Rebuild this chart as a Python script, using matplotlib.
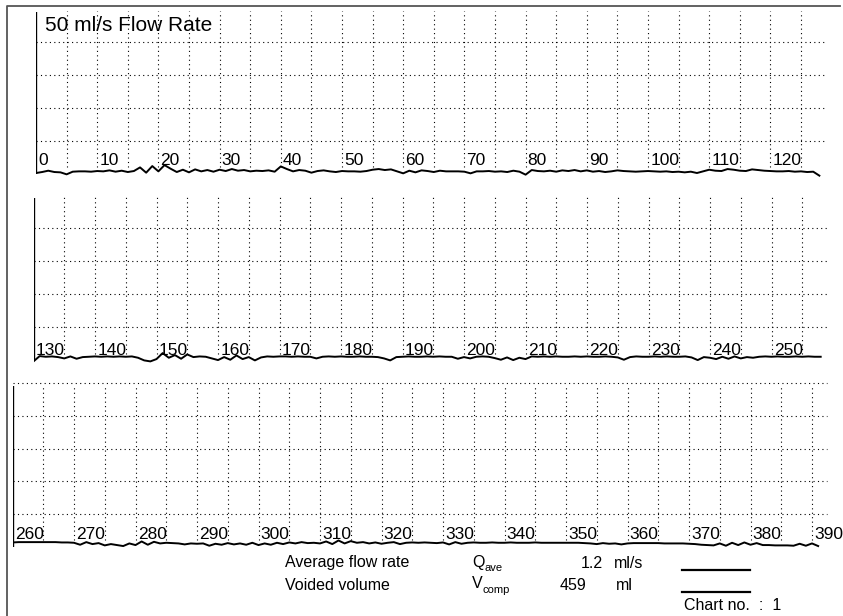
import matplotlib
matplotlib.use("Agg")
from matplotlib import pyplot as plt
from matplotlib.lines import Line2D

plt.rcParams["font.family"] = ["Liberation Sans", "DejaVu Sans"]

W, H = 843, 616

# flow rate (ml/s), one sample per second
flow_1 = [0.3, 0.6, 1.0, 0.6, 0.5, -0.1, 0.7, 0.8, 0.8, 0.7,
          0.9, 0.8, 1.1, 0.7, 1.0, 0.6, 0.9, 2.0, 0.4, 2.4,
          0.8, 2.7, 1.6, 0.6, 1.3, 0.5, 1.4, 0.8, 1.2, 0.7,
          1.3, 0.9, 1.5, 1.0, 1.2, 0.8, 1.0, 0.9, 1.1, 0.7,
          2.3, 1.5, 0.8, 1.2, 1.0, 0.4, 0.9, 1.1, 0.8, 0.6,
          0.9, 0.8, 0.8, 0.7, 0.9, 1.3, 1.5, 1.2, 1.4, 0.8,
          0.2, 1.0, 0.5, 1.1, 0.9, 0.6, 1.0, 0.8, 0.8, 0.8,
          0.7, 0.2, 0.8, 0.8, 0.9, 0.7, 0.8, 0.6, 1.0, 0.7,
          -0.2, 1.2, 0.9, 0.8, 1.0, 0.7, 1.1, 0.9, 1.2, 0.8,
          1.1, 0.7, 0.9, 0.6, 0.8, 1.1, 0.9, 0.8, 0.7, 0.8,
          0.9, 0.8, 0.7, 0.8, 0.6, 0.7, 0.5, 0.7, 0.3, 0.8,
          1.3, 1.0, 0.9, 1.5, 1.3, 1.0, 0.9, 1.4, 1.2, 1.0,
          0.9, 0.8, 0.8, 0.9, 0.7, 0.8, 0.6, 0.7, -0.5]
flow_2 = [-0.3, 1.3, 1.1, 1.2, 1.0, 0.6, 1.2, 0.5, 1.0, 1.1,
          1.2, 1.1, 1.2, 1.1, 1.2, 1.1, 1.2, 0.8, 0.0, -0.3,
          0.4, 2.2, 0.8, 1.6, 0.5, 1.8, 1.0, 1.2, 1.1, 0.6,
          0.1, 1.0, 0.2, 1.5, 0.4, 1.0, 0.0, 0.9, 1.2, 1.1,
          1.2, 1.2, 1.1, 1.2, 1.1, 1.1, 0.6, 1.1, 1.2, 1.1,
          1.2, 1.1, 1.1, 1.2, 1.1, 1.1, 1.0, 0.6, 0.0, 1.0,
          1.1, 1.2, 1.1, 1.1, 1.2, 1.1, 1.2, 1.1, 1.1, 0.5,
          1.0, 0.6, 1.1, 1.2, 1.1, 0.7, 0.2, 0.9, 0.1, 0.8,
          0.4, 1.2, 1.1, 1.2, 1.1, 1.2, 1.1, 1.1, 1.2, 1.1,
          1.2, 1.1, 1.1, 1.2, 1.1, 0.9, 0.2, 1.0, 1.2, 1.1,
          1.1, 1.2, 1.1, 1.2, 1.1, 1.1, 1.2, 0.9, 0.1, 1.0,
          0.8, 0.4, 1.1, 0.5, 1.2, 0.6, 1.0, 0.8, 1.1, 1.2,
          1.1, 1.2, 1.1, 1.1, 1.2, 1.1, 1.2, 1.1, 1.1]
flow_3 = [1.3, 1.4, 1.4, 1.4, 1.4, 1.4, 1.4, 1.4, 1.3, 1.3,
          1.2, 0.6, 1.4, 0.8, 1.1, 0.4, 0.8, 0.5, 0.2, 1.0,
          0.5, 1.6, 0.6, 1.5, 1.0, 1.2, 1.1, 1.0, 0.7, 1.0,
          0.9, 1.0, 0.3, 0.9, 0.6, 1.1, 0.7, 1.0, 0.6, 1.2,
          0.5, 1.0, 0.6, 1.2, 0.8, 1.3, 1.0, 1.4, 1.1, 1.2,
          1.0, 1.6, 0.8, 1.9, 1.0, 1.7, 1.2, 1.4, 1.0, 1.3,
          0.9, 1.2, 1.4, 0.8, 1.2, 1.3, 1.2, 1.3, 1.2, 1.1,
          1.3, 0.7, 1.4, 0.9, 1.2, 1.3, 1.2, 1.2, 1.3, 1.2,
          1.2, 1.3, 1.2, 1.2, 1.2, 1.3, 1.2, 1.2, 1.2, 1.2,
          1.2, 1.2, 1.2, 1.1, 1.0, 0.8, 1.1, 0.9, 1.0, 0.7,
          1.0, 1.1, 1.1, 1.1, 1.1, 1.1, 1.0, 1.0, 1.0, 1.0,
          0.9, 0.8, 0.6, 0.5, 0.4, 1.0, 0.3, 1.2, 0.5, 1.3,
          0.6, 1.1, 0.5, 0.5, 0.4, 0.4, 0.4, 0.3, 0.9, 0.3,
          1.0, 0.2]

time_1 = list(range(0, 129))
time_2 = list(range(130, 259))
time_3 = list(range(260, 392))

ticks_1 = [0, 10, 20, 30, 40, 50, 60, 70, 80, 90, 100, 110, 120]
ticks_2 = [130, 140, 150, 160, 170, 180, 190, 200, 210, 220, 230, 240, 250]
ticks_3 = [260, 270, 280, 290, 300, 310, 320, 330, 340, 350, 360, 370, 380, 390]

y_grid = [10, 20, 30, 40]


def make_strip(fig, x0, y0, sx, sy, t0):
    # x0, y0: pixel of (t0, 0 ml/s); sx px per second, sy px per ml/s
    ax = fig.add_axes([x0 / W, 1 - (y0 + 3 * sy) / H, 133 * sx / W, 54 * sy / H])
    ax.set_xlim(t0, t0 + 133)
    ax.set_ylim(-3, 51)
    ax.axis("off")
    return ax


def draw_strip(ax, t0, t_end, times, flow, ticks, label_y, top_line):
    dots = (0, (1, 3))
    ax.hlines(y_grid, t0, t_end, colors="black", linestyles=dots, lw=0.8)
    if top_line:
        ax.hlines([50], t0, t_end, colors="black", linestyles=dots, lw=0.8)
    vx = [t for t in range(t0 + 5, int(t_end), 5)]
    ax.vlines(vx, 2, 49.5, colors="black", linestyles=dots, lw=0.8)
    ax.vlines([t0], 0, 49, colors="black", lw=1.7)
    for t in ticks:
        ax.text(t + 0.35, label_y, str(t), ha="left", va="center", fontsize=12.5)
    ax.plot(times, flow, color="black", lw=1.4)


fig = plt.figure(figsize=(W / 100, H / 100), dpi=100)

ax1 = make_strip(fig, 36, 174, 6.12, 3.3, 0)
draw_strip(ax1, 0, 129.2, time_1, flow_1, ticks_1, 4.2, False)
ax1.text(1.5, 43.3, "50 ml/s Flow Rate", ha="left", va="baseline", fontsize=15)

ax2 = make_strip(fig, 33.5, 360.4, 6.15, 3.31, 130)
draw_strip(ax2, 130, 259.0, time_2, flow_2, ticks_2, 3.1, False)

ax3 = make_strip(fig, 12.5, 546.7, 6.15, 3.27, 260)
draw_strip(ax3, 260, 392.4, time_3, flow_3, ticks_3, 3.6, True)


# summary block under the chart
def ftext(x, y, s, **kw):
    fig.text(x / W, 1 - y / H, s, va="center", **kw)


ftext(285, 563, "Average flow rate", fontsize=11.5)
ftext(285, 585, "Voided volume", fontsize=11.5)
ftext(472, 562, "Q", fontsize=11.5)
ftext(484, 568, "ave", fontsize=8)
ftext(472, 584, "V", fontsize=11.5)
ftext(482, 590, "comp", fontsize=8)
ftext(603, 563, "1.2", fontsize=11.5, ha="right")
ftext(586, 585, "459", fontsize=11.5, ha="right")
ftext(614, 563, "ml/s", fontsize=11.5)
ftext(616, 585, "ml", fontsize=11.5)
ftext(684, 605, "Chart no.  :  1", fontsize=11.5)

for yy in [570, 592]:
    fig.add_artist(Line2D([682 / W, 750 / W], [1 - yy / H, 1 - yy / H],
                          transform=fig.transFigure, color="black", lw=1.6))

# page frame: only the left and top edges fall inside the picture
fig.add_artist(Line2D([7 / W, 7 / W, 840 / W], [0, 1 - 6 / H, 1 - 6 / H],
                      transform=fig.transFigure, color="#555555", lw=1.3))

fig.savefig("out.png", dpi=100)
